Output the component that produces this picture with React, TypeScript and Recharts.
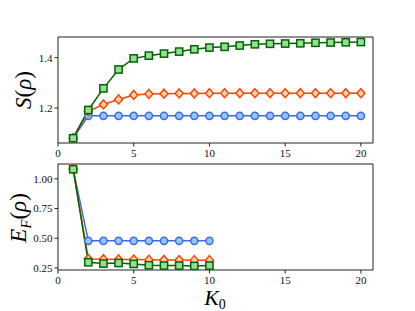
import { LineChart, Line, XAxis, YAxis, ReferenceArea } from 'recharts'

const kTop = [1, 2, 3, 4, 5, 6, 7, 8, 9, 10, 11, 12, 13, 14, 15, 16, 17, 18, 19, 20]
const sBlue = [1.08, 1.169, 1.169, 1.169, 1.169, 1.169, 1.169, 1.169, 1.169, 1.169, 1.169, 1.169, 1.169, 1.169, 1.169, 1.169, 1.169, 1.169, 1.169, 1.169]
const sOrange = [1.08, 1.187, 1.214, 1.234, 1.252, 1.256, 1.257, 1.258, 1.258, 1.259, 1.259, 1.259, 1.259, 1.259, 1.259, 1.259, 1.259, 1.259, 1.259, 1.259]
const sGreen = [1.08, 1.192, 1.278, 1.353, 1.397, 1.408, 1.416, 1.424, 1.433, 1.44, 1.443, 1.448, 1.453, 1.455, 1.456, 1.457, 1.459, 1.46, 1.461, 1.462]

const kBottom = [1, 2, 3, 4, 5, 6, 7, 8, 9, 10]
const eBlue = [1.083, 0.478, 0.478, 0.478, 0.478, 0.478, 0.478, 0.478, 0.478, 0.478]
const eOrange = [1.083, 0.326, 0.324, 0.322, 0.321, 0.319, 0.318, 0.317, 0.316, 0.316]
const eGreen = [1.08, 0.298, 0.287, 0.292, 0.284, 0.273, 0.27, 0.27, 0.267, 0.27]

const xTicks = [0, 5, 10, 15, 20]
const topTicks = [1.2, 1.4]
const bottomTicks = [0.25, 0.5, 0.75, 1.0]

const topData = kTop.map((k, i) => ({ k, blue: sBlue[i], orange: sOrange[i], green: sGreen[i] }))
const bottomData = kBottom.map((k, i) => ({ k, blue: eBlue[i], orange: eOrange[i], green: eGreen[i] }))

const FONT = '"Liberation Serif", "DejaVu Serif", serif'
const AXIS = '#222'
const X_MAX = 20.8

const XTick = (p: any) => (
  <text x={p.x} y={p.y + 8} textAnchor="middle" fontFamily={FONT} fontSize={11} fill="#111">
    {p.payload.value}
  </text>
)
const makeYTick = (digits: number) => (p: any) => (
  <text x={p.x} y={p.y + 4} textAnchor="end" fontFamily={FONT} fontSize={11} fill="#111">
    {Number(p.payload.value).toFixed(digits)}
  </text>
)

const Circle = (p: any) => (
  <circle key={p.index} cx={p.cx} cy={p.cy} r={3.6} fill="#8fc8ee" stroke="#4169e1" strokeWidth={1.5} />
)
const Diamond = (p: any) => (
  <polygon
    key={p.index}
    points={`${p.cx},${p.cy - 4.5} ${p.cx + 4},${p.cy} ${p.cx},${p.cy + 4.5} ${p.cx - 4},${p.cy}`}
    fill="#ffd3b0"
    stroke="#ff4500"
    strokeWidth={1.5}
  />
)
const Square = (p: any) => (
  <rect key={p.index} x={p.cx - 3.6} y={p.cy - 3.6} width={7.2} height={7.2} fill="#97dc97" stroke="#006400" strokeWidth={1.5} />
)

function Panel({ data, yDomain, yTicks, digits, height, top, bottom }: any) {
  return (
    <LineChart width={415} height={height} data={data} margin={{ top, right: 42, bottom, left: 18 }}>
      <XAxis
        dataKey="k"
        type="number"
        domain={[0, X_MAX]}
        ticks={xTicks}
        allowDataOverflow
        height={20}
        tick={XTick}
        tickSize={3.5}
        axisLine={false}
        tickLine={{ stroke: AXIS }}
      />
      <YAxis
        type="number"
        domain={yDomain}
        ticks={yTicks}
        allowDataOverflow
        width={40}
        tick={makeYTick(digits)}
        tickSize={3.5}
        axisLine={false}
        tickLine={{ stroke: AXIS }}
      />
      <Line dataKey="blue" stroke="#4169e1" strokeWidth={1.5} dot={Circle} isAnimationActive={false} />
      <Line dataKey="orange" stroke="#ff4500" strokeWidth={1.5} dot={Diamond} isAnimationActive={false} />
      <Line dataKey="green" stroke="#006400" strokeWidth={1.5} dot={Square} isAnimationActive={false} />
      <ReferenceArea x1={0} x2={X_MAX} y1={yDomain[0]} y2={yDomain[1]} fill="none" stroke={AXIS} strokeWidth={1} ifOverflow="visible" />
    </LineChart>
  )
}

export default function App() {
  return (
    <div style={{ position: 'absolute', left: 0, top: 0, width: 415, height: 311, background: '#fff', overflow: 'hidden' }}>
      <div style={{ position: 'absolute', left: 0, top: 0 }}>
        <Panel data={topData} yDomain={[1.061, 1.482]} yTicks={topTicks} digits={1} height={165} top={37} bottom={2} />
      </div>
      <div style={{ position: 'absolute', left: 0, top: 150 }}>
        <Panel data={bottomData} yDomain={[0.233, 1.124]} yTicks={bottomTicks} digits={2} height={161} top={14} bottom={21} />
      </div>
      <svg width={415} height={311} style={{ position: 'absolute', left: 0, top: 0, pointerEvents: 'none' }}>
        <text x={0} y={0} transform="translate(31,90) rotate(-90)" textAnchor="middle" fontFamily={FONT} fontSize={23} fill="#000">
          <tspan fontStyle="italic">S</tspan>
          <tspan>(</tspan>
          <tspan fontStyle="italic">ρ</tspan>
          <tspan>)</tspan>
        </text>
        <text x={0} y={0} transform="translate(26,218) rotate(-90)" textAnchor="middle" fontFamily={FONT} fontSize={23} fill="#000">
          <tspan fontStyle="italic">E</tspan>
          <tspan fontStyle="italic" fontSize={15} dy={5}>F</tspan>
          <tspan dy={-5}>(</tspan>
          <tspan fontStyle="italic">ρ</tspan>
          <tspan>)</tspan>
        </text>
        <text x={215} y={305} textAnchor="middle" fontFamily={FONT} fontSize={22} fill="#000">
          <tspan fontStyle="italic">K</tspan>
          <tspan fontSize={14} dy={4}>0</tspan>
        </text>
      </svg>
    </div>
  )
}
